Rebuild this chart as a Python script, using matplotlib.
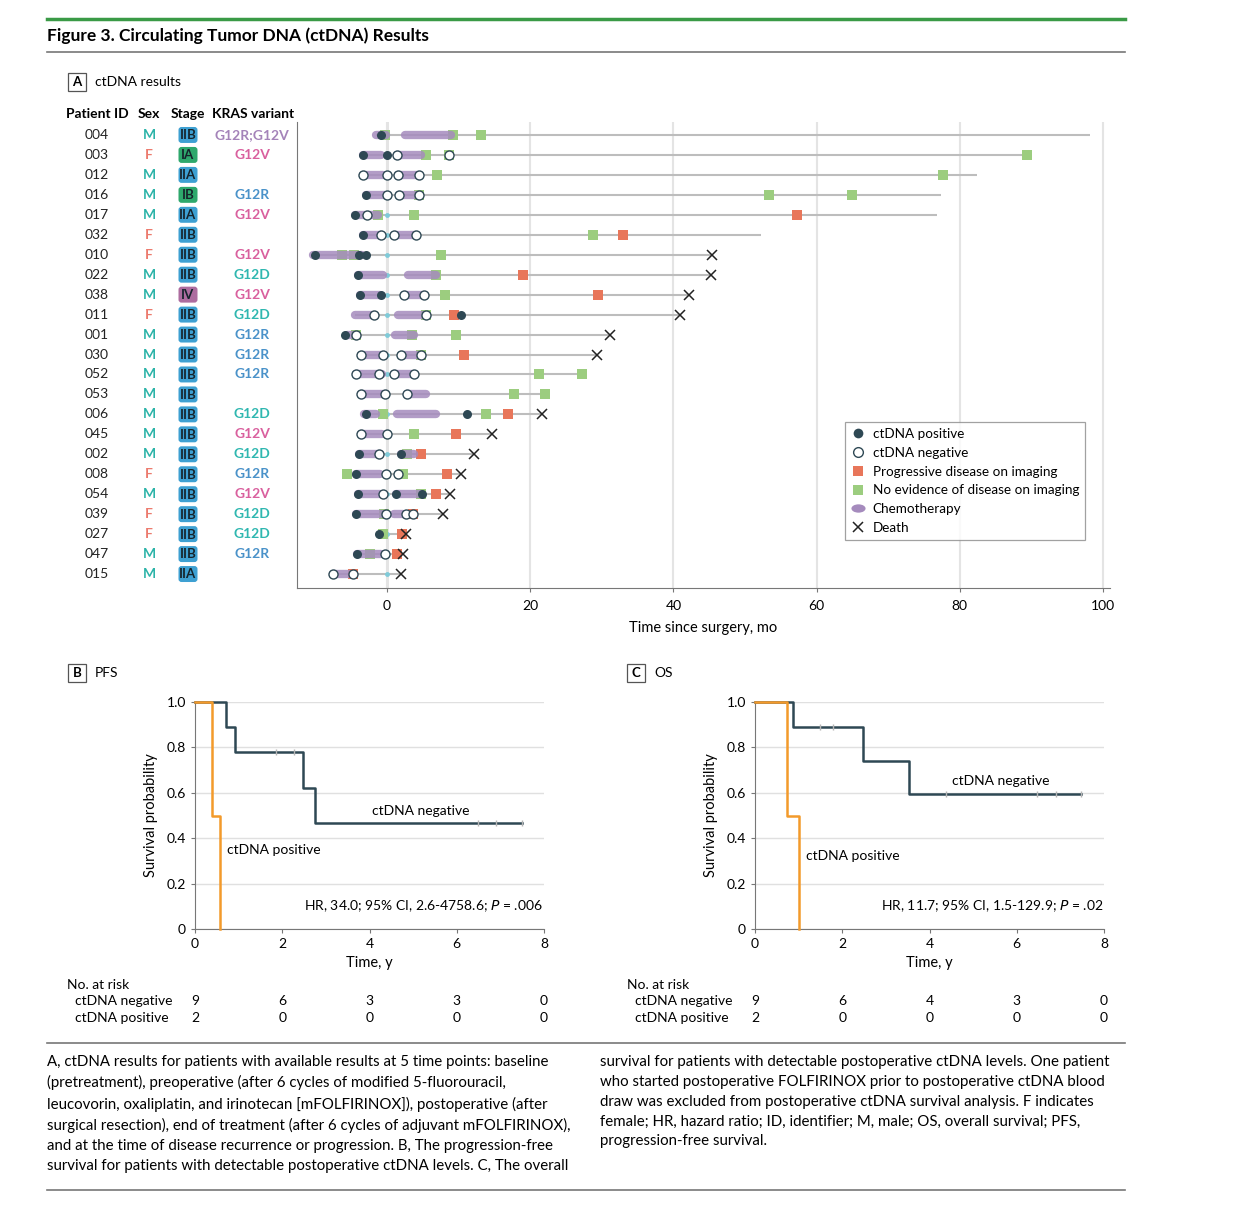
import matplotlib.pyplot as plt
from matplotlib.lines import Line2D
from matplotlib.patches import FancyBboxPatch, Rectangle
from matplotlib.markers import MarkerStyle
from matplotlib.transforms import Affine2D, blended_transform_factory

plt.rcParams['font.family'] = ['Lato', 'DejaVu Sans']

# ---- panel A data (months since surgery) ----
patient_ids = ['004', '003', '012', '016', '017', '032', '010', '022', '038', '011', '001', '030',
               '052', '053', '006', '045', '002', '008', '054', '039', '027', '047', '015']
sex = ['M', 'F', 'M', 'M', 'M', 'F', 'F', 'M', 'M', 'F', 'M', 'M',
       'M', 'M', 'M', 'M', 'M', 'F', 'M', 'F', 'F', 'M', 'M']
stage = ['IIB', 'IA', 'IIA', 'IB', 'IIA', 'IIB', 'IIB', 'IIB', 'IV', 'IIB', 'IIB', 'IIB',
         'IIB', 'IIB', 'IIB', 'IIB', 'IIB', 'IIB', 'IIB', 'IIB', 'IIB', 'IIB', 'IIA']
kras = ['G12R;G12V', 'G12V', '', 'G12R', 'G12V', '', 'G12V', 'G12D', 'G12V', 'G12D', 'G12R', 'G12R',
        'G12R', '', 'G12D', 'G12V', 'G12D', 'G12R', 'G12V', 'G12D', 'G12D', 'G12R', '']

ctdna_pos = [[-0.9], [-3.4, 0.0], [], [-3.0], [-4.5], [-3.3], [-10.1, -3.9, -2.9], [-4.0],
             [-3.8, -0.9], [10.4], [-5.8], [], [], [], [-3.0, 11.2], [], [-3.9, 2.0], [-4.4],
             [-4.0, 1.3, 4.9], [-4.3], [-1.1], [-4.2], []]
ctdna_neg = [[], [1.4, 8.6], [-3.4, 0.0, 1.6, 4.5], [0.0, 1.7, 4.5], [-2.8], [-0.8, 1.0, 4.0],
             [], [], [2.4, 5.2], [-1.8, 5.4], [-4.4], [-3.7, -0.5, 2.0, 4.7],
             [-4.4, -1.1, 1.0, 3.8], [-3.6, -0.3, 2.8], [], [-3.6, 0.0], [-1.1], [-0.1, 1.6],
             [-0.6], [-0.1, 2.7, 3.6], [], [-0.3], [-7.5, -4.7]]
progressive = [[], [], [], [], [57.2], [32.9], [], [19.0], [29.4], [9.3], [], [10.7],
               [], [], [16.9], [9.6], [4.7], [8.4], [6.8], [3.6], [2.1], [1.4], [-4.7]]
no_evidence = [[-0.3, 9.2, 13.1], [5.5, 8.6, 89.4], [7.0, 77.6], [4.5, 53.3, 65.0], [-1.3, 3.7],
               [28.8], [-6.3, -4.6, 7.5], [6.9], [8.1], [5.4], [-4.4, 3.5, 9.7], [4.7],
               [21.2, 27.2], [17.8, 22.1], [-0.6, 13.8], [3.8], [2.8], [-5.6, 2.3], [4.7],
               [-0.4], [-0.5], [-2.4], []]
chemo = [[(-1.5, -0.2), (2.5, 9.0)], [(-3.4, -0.8), (1.4, 4.8)], [(-3.4, -0.5), (1.6, 4.5)],
         [(-3.0, -0.3), (1.7, 4.4)], [(-4.5, -1.3)], [(-3.3, -0.9), (1.0, 4.0)],
         [(-10.3, -3.5)], [(-4.0, -0.5), (3.0, 6.9)], [(-3.8, -1.0), (2.4, 5.2)],
         [(-4.5, -1.8), (1.6, 5.1)], [(-5.6, -4.5), (1.1, 3.7)], [(-3.7, -0.8), (2.0, 4.6)],
         [(-4.4, -0.7), (1.0, 3.8)], [(-3.6, -0.6), (2.8, 5.4)], [(-3.2, -1.6), (1.4, 6.9)],
         [(-3.6, -0.7)], [(-3.9, -1.0), (2.0, 3.7)], [(-4.4, -1.0)], [(-4.0, -1.0), (1.3, 4.8)],
         [(-4.3, -0.2), (1.0, 2.3)], [], [(-4.2, -0.8)], [(-7.5, -5.3)]]
death = [None, None, None, None, None, None, 45.4, 45.3, 42.2, 40.9, 31.2, 29.3,
         None, None, 21.7, 14.6, 12.2, 10.3, 8.8, 7.8, 2.6, 2.3, 2.0]
last_followup = [98.2, 89.4, 82.4, 77.3, 76.8, 52.3, 45.4, 45.3, 42.2, 40.9, 31.2, 29.3,
                 27.2, 22.1, 21.7, 14.6, 12.2, 10.3, 8.8, 7.8, 2.6, 2.3, 2.0]

# ---- panels B and C (Kaplan-Meier, years) ----
pfs_neg_t = [0, 0.71, 0.92, 2.47, 2.75, 7.49]
pfs_neg_s = [1.0, 0.889, 0.778, 0.622, 0.467, 0.467]
pfs_neg_cens_t = [1.85, 2.28, 6.48, 6.9, 7.49]
pfs_neg_cens_s = [0.778, 0.778, 0.467, 0.467, 0.467]
pfs_pos_t = [0, 0.40, 0.57]
pfs_pos_s = [1.0, 0.5, 0.0]
os_neg_t = [0, 0.87, 2.47, 3.52, 7.47]
os_neg_s = [1.0, 0.889, 0.741, 0.593, 0.593]
os_neg_cens_t = [1.49, 1.78, 4.37, 6.47, 6.9, 7.47]
os_neg_cens_s = [0.889, 0.889, 0.593, 0.593, 0.593, 0.593]
os_pos_t = [0, 0.73, 1.01]
os_pos_s = [1.0, 0.5, 0.0]
risk_times = [0, 2, 4, 6, 8]
pfs_risk_neg = [9, 6, 3, 3, 0]
pfs_risk_pos = [2, 0, 0, 0, 0]
os_risk_neg = [9, 6, 4, 3, 0]
os_risk_pos = [2, 0, 0, 0, 0]

W, H = 1250, 1216
fig = plt.figure(figsize=(W / 100, H / 100), dpi=100)

DARK = '#2e4854'
GREEN = '#9ccd7f'
RED = '#e8765a'
PURPLE = '#a58bbd'
CYAN = '#7fcbd9'
sex_colors = {'M': '#2bb3a8', 'F': '#ec7b6e'}
stage_colors = {'IIB': '#3ea0d2', 'IIA': '#3ea0d2', 'IA': '#2ea86c', 'IB': '#2ea86c', 'IV': '#ad6c9f'}
kras_colors = {'G12V': '#d9609e', 'G12D': '#2fb7b0', 'G12R': '#4a92c9', 'G12R;G12V': '#a483b9'}


def fx(px):
    return px / W


def fy(py):
    return 1 - py / H


# header lines and title
fig.add_artist(Line2D([fx(47), fx(1125)], [fy(19), fy(19)], color='#3a9a46', lw=2.5))
fig.add_artist(Line2D([fx(47), fx(1125)], [fy(52), fy(52)], color='#777777', lw=1.2))
fig.text(fx(47), fy(36), 'Figure 3. Circulating Tumor DNA (ctDNA) Results', fontsize=12.5,
         fontweight='bold', va='center', ha='left')


def panel_label(x, y, letter, title):
    fig.add_artist(Rectangle((fx(x), fy(y + 9)), 18 / W, 18 / H, fill=False, ec='#555555', lw=0.9))
    fig.text(fx(x + 9), fy(y), letter, fontsize=9.5, fontweight='bold', ha='center', va='center')
    fig.text(fx(x + 27), fy(y), title, fontsize=10, ha='left', va='center')


panel_label(68, 82, 'A', 'ctDNA results')
panel_label(68, 673, 'B', 'PFS')
panel_label(627, 673, 'C', 'OS')

# ---- panel A ----
n = len(patient_ids)
ylim = (22.7, -0.65)
axA = fig.add_axes([fx(297), fy(588), (1110 - 297) / W, (588 - 122) / H])
axA.set_xlim(-12.57, 100.97)
axA.set_ylim(*ylim)
for s in ['top', 'right']:
    axA.spines[s].set_visible(False)
for s in ['left', 'bottom']:
    axA.spines[s].set_color('#777777')
axA.set_yticks([])
axA.set_xticks([0, 20, 40, 60, 80, 100])
axA.tick_params(axis='x', length=3, color='#777777', labelsize=10, pad=6)
axA.grid(axis='x', color='#e4e4e4', lw=1.5, zorder=0)
axA.axvline(0, color='#7a7a7a', lw=1, zorder=1)
axA.set_xlabel('Time since surgery, mo', fontsize=10.5, labelpad=6)

for i in range(n):
    events = ctdna_pos[i] + ctdna_neg[i] + progressive[i] + no_evidence[i] + [a for a, b in chemo[i]]
    start = min(events)
    axA.plot([start, last_followup[i]], [i, i], color='#bdbdbd', lw=1.5, zorder=2, solid_capstyle='butt')
    axA.plot([0], [i], 'o', color=CYAN, ms=3.5, mew=0, zorder=3)
    for t in no_evidence[i]:
        axA.plot([t], [i], 's', color=GREEN, ms=6.5, mew=0, zorder=4)
    for t in progressive[i]:
        axA.plot([t], [i], 's', color=RED, ms=6.5, mew=0, zorder=4)
    for a, b in chemo[i]:
        axA.plot([a, b], [i, i], color=PURPLE, lw=6, alpha=0.85, solid_capstyle='round', zorder=5)
    for t in ctdna_pos[i]:
        axA.plot([t], [i], 'o', color=DARK, ms=6.5, mew=0, zorder=6)
    for t in ctdna_neg[i]:
        axA.plot([t], [i], 'o', mfc='white', mec=DARK, ms=6.5, mew=1, zorder=6)
    if death[i] is not None:
        axA.plot([death[i]], [i], 'x', color='#222222', ms=7, mew=1.1, zorder=7)

# legend
chemo_marker = MarkerStyle('o', transform=Affine2D().scale(1.7, 1.0))
handles = [
    Line2D([], [], ls='', marker='o', color=DARK, ms=7, mew=0),
    Line2D([], [], ls='', marker='o', mfc='white', mec=DARK, ms=7, mew=1),
    Line2D([], [], ls='', marker='s', color=RED, ms=7, mew=0),
    Line2D([], [], ls='', marker='s', color=GREEN, ms=7, mew=0),
    Line2D([], [], ls='', marker=chemo_marker, color=PURPLE, ms=6, mew=0),
    Line2D([], [], ls='', marker='x', color='#222222', ms=7, mew=1.1),
]
labels = ['ctDNA positive', 'ctDNA negative', 'Progressive disease on imaging',
          'No evidence of disease on imaging', 'Chemotherapy', 'Death']
leg = axA.legend(handles, labels, loc='upper left', bbox_to_anchor=(fx(845), fy(422)),
                 bbox_transform=fig.transFigure, borderaxespad=0, fontsize=9.7, frameon=True,
                 fancybox=False, edgecolor='#8a8a8a', handlelength=1.0, handletextpad=0.6,
                 labelspacing=0.5, borderpad=0.45)
leg.get_frame().set_linewidth(0.9)

# table to the left
axT = fig.add_axes([fx(60), fy(588), (297 - 60) / W, (588 - 122) / H])
axT.set_xlim(60, 297)
axT.set_ylim(*ylim)
axT.axis('off')
for x, lab in [(97, 'Patient ID'), (149, 'Sex'), (188, 'Stage'), (253, 'KRAS variant')]:
    axT.text(x, -1.05, lab, fontsize=10, fontweight='bold', ha='center', va='center', clip_on=False)
for i in range(n):
    axT.text(97, i, patient_ids[i], fontsize=10, ha='center', va='center', color='#222222')
    axT.text(149, i, sex[i], fontsize=10, ha='center', va='center', color=sex_colors[sex[i]],
             fontweight='bold')
    box = FancyBboxPatch((188 - 9.5, i - 0.4), 19, 0.8, boxstyle='round,pad=0,rounding_size=3',
                         mutation_aspect=1 / 19.95, fc=stage_colors[stage[i]], ec='none')
    axT.add_patch(box)
    axT.text(188, i + 0.02, stage[i], fontsize=9.5, ha='center', va='center', color='#15242c',
             fontweight='bold')
    if kras[i]:
        axT.text(252, i, kras[i], fontsize=10, ha='center', va='center', color=kras_colors[kras[i]],
                 fontweight='bold')


# ---- panels B and C ----
def km_panel(x0, neg_t, neg_s, cens_t, cens_s, pos_t, pos_s, risk_neg, risk_pos,
             neg_lab, pos_lab, hr_text):
    ax = fig.add_axes([fx(x0), fy(929), 349 / W, (929 - 702) / H])
    ax.set_xlim(0, 8)
    ax.set_ylim(0, 1.0)
    ax.set_xticks([0, 2, 4, 6, 8])
    ax.set_yticks([0, 0.2, 0.4, 0.6, 0.8, 1.0])
    ax.set_yticklabels(['0', '0.2', '0.4', '0.6', '0.8', '1.0'])
    ax.grid(axis='y', color='#e0e0e0', lw=1)
    ax.set_axisbelow(True)
    for s in ['top', 'right']:
        ax.spines[s].set_visible(False)
    for s in ['left', 'bottom']:
        ax.spines[s].set_color('#777777')
    ax.tick_params(length=3, color='#777777', labelsize=10)
    ax.step(neg_t, neg_s, where='post', color=DARK, lw=1.8, clip_on=False, zorder=3)
    ax.plot(cens_t, cens_s, '|', color='#b5b5b5', ms=4, mew=1, zorder=4, clip_on=False)
    ax.step(pos_t, pos_s, where='post', color='#f39a2b', lw=1.8, clip_on=False, zorder=3)
    ax.set_xlabel('Time, y', fontsize=10.5, labelpad=4)
    ax.set_ylabel('Survival probability', fontsize=10.5, labelpad=6)
    ax.text(neg_lab[0], neg_lab[1], 'ctDNA negative', fontsize=10, ha='center', va='center')
    ax.text(pos_lab[0], pos_lab[1], 'ctDNA positive', fontsize=10, ha='left', va='center')
    ax.text(7.98, 0.10, hr_text, fontsize=10, ha='right', va='center')
    tr = blended_transform_factory(ax.transData, ax.transAxes)
    ax.text(-2.94, -(985 - 929) / 227, 'No. at risk', fontsize=10, ha='left', va='center', transform=tr)
    ax.text(-2.76, -(1001 - 929) / 227, 'ctDNA negative', fontsize=10, ha='left', va='center', transform=tr)
    ax.text(-2.76, -(1018 - 929) / 227, 'ctDNA positive', fontsize=10, ha='left', va='center', transform=tr)
    for t, a, b in zip(risk_times, risk_neg, risk_pos):
        ax.text(t, -(1001 - 929) / 227, str(a), fontsize=10, ha='center', va='center', transform=tr)
        ax.text(t, -(1018 - 929) / 227, str(b), fontsize=10, ha='center', va='center', transform=tr)
    return ax


km_panel(195, pfs_neg_t, pfs_neg_s, pfs_neg_cens_t, pfs_neg_cens_s, pfs_pos_t, pfs_pos_s,
         pfs_risk_neg, pfs_risk_pos, (5.18, 0.52), (0.73, 0.35),
         'HR, 34.0; 95% CI, 2.6-4758.6; $\\it{P}$ = .006')
km_panel(755, os_neg_t, os_neg_s, os_neg_cens_t, os_neg_cens_s, os_pos_t, os_pos_s,
         os_risk_neg, os_risk_pos, (5.63, 0.652), (1.17, 0.32),
         'HR, 11.7; 95% CI, 1.5-129.9; $\\it{P}$ = .02')

# ---- caption ----
fig.add_artist(Line2D([fx(47), fx(1125)], [fy(1043), fy(1043)], color='#777777', lw=1.2))
fig.add_artist(Line2D([fx(47), fx(1125)], [fy(1190), fy(1190)], color='#777777', lw=1.2))
caption_left = ('A, ctDNA results for patients with available results at 5 time points: baseline\n'
                '(pretreatment), preoperative (after 6 cycles of modified 5-fluorouracil,\n'
                'leucovorin, oxaliplatin, and irinotecan [mFOLFIRINOX]), postoperative (after\n'
                'surgical resection), end of treatment (after 6 cycles of adjuvant mFOLFIRINOX),\n'
                'and at the time of disease recurrence or progression. B, The progression-free\n'
                'survival for patients with detectable postoperative ctDNA levels. C, The overall')
caption_right = ('survival for patients with detectable postoperative ctDNA levels. One patient\n'
                 'who started postoperative FOLFIRINOX prior to postoperative ctDNA blood\n'
                 'draw was excluded from postoperative ctDNA survival analysis. F indicates\n'
                 'female; HR, hazard ratio; ID, identifier; M, male; OS, overall survival; PFS,\n'
                 'progression-free survival.')
fig.text(fx(47), fy(1055), caption_left, fontsize=10.8, ha='left', va='top', linespacing=1.53)
fig.text(fx(600), fy(1055), caption_right, fontsize=10.8, ha='left', va='top', linespacing=1.53)

fig.savefig('out.png', dpi=100)
